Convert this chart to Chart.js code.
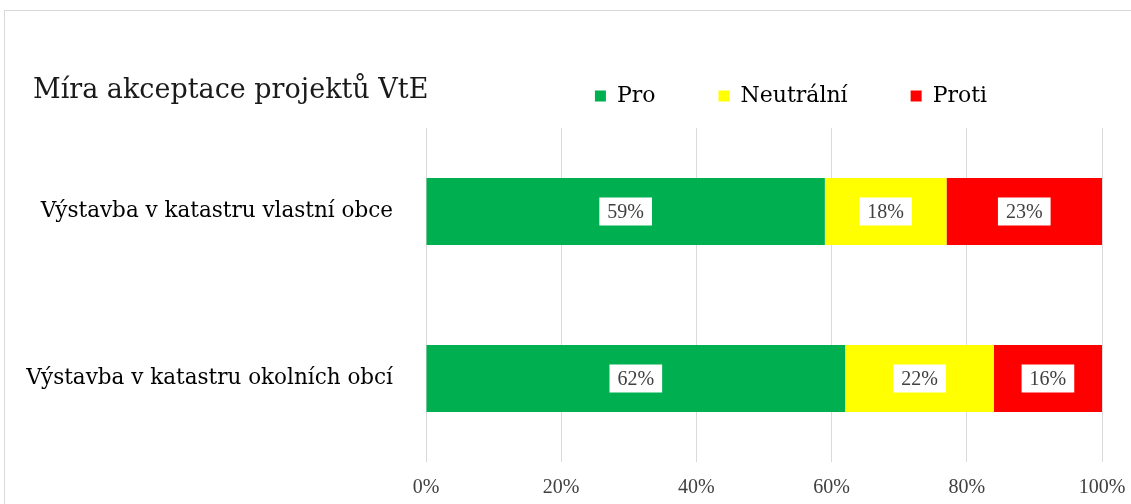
<!DOCTYPE html>
<html>
<head>
<meta charset="utf-8">
<script src="https://cdn.jsdelivr.net/npm/chart.js@4"></script>
<style>
  html, body { margin: 0; padding: 0; background: #fff; overflow: hidden; }
  #wrap { position: relative; width: 1131px; height: 504px; }
  #frame { position: absolute; left: 4px; top: 10px; width: 1140px; height: 520px; border: 1px solid #d9d9d9; box-sizing: border-box; }
  canvas { position: absolute; left: 0; top: 0; }
</style>
</head>
<body>
<div id="wrap">
  <div id="frame"></div>
  <canvas id="chart" width="1131" height="504"></canvas>
</div>
<script>
// Chart data
const chartTitle = 'Míra akceptace projektů VtE';
const categories = ['Výstavba v katastru vlastní obce', 'Výstavba v katastru okolních obcí'];
const seriesNames = ['Pro', 'Neutrální', 'Proti'];
const proValues = [59, 62];
const neutralValues = [18, 22];
const protiValues = [23, 16];
const xTicks = [0, 20, 40, 60, 80, 100];

const colors = ['#00B050', '#FFFF00', '#FF0000'];
const serif = "'DejaVu Serif', serif";
const narrow = "'Liberation Serif', serif";

// White boxed value labels + title text
const labelPlugin = {
    id: 'boxLabels',
    afterLayout(chart) {
        // move legend so it sits to the right of the title, on the title's line
        const lg = chart.legend;
        const shift = 791 - (lg.left + lg.right) / 2;
        lg.left += shift;
        lg.right += shift;
        lg.top -= 11;
        lg.bottom -= 11;
    },
    afterDatasetsDraw(chart) {
        const ctx = chart.ctx;
        ctx.save();
        ctx.font = `20px ${narrow}`;
        ctx.textAlign = 'center';
        ctx.textBaseline = 'middle';
        chart.data.datasets.forEach((ds, i) => {
            chart.getDatasetMeta(i).data.forEach((bar, j) => {
                const text = ds.data[j] + '%';
                const cx = (bar.x + bar.base) / 2;
                const w = ctx.measureText(text).width + 16;
                ctx.fillStyle = '#ffffff';
                ctx.fillRect(cx - w / 2, bar.y - 14, w, 28);
                ctx.fillStyle = '#404040';
                ctx.fillText(text, cx, bar.y + 1);
            });
        });
        ctx.restore();
    },
    afterDraw(chart) {
        const ctx = chart.ctx;
        ctx.save();
        ctx.font = `27px ${serif}`;
        ctx.fillStyle = '#1a1a1a';
        ctx.textAlign = 'left';
        ctx.textBaseline = 'middle';
        ctx.fillText(chartTitle, 33, 91);
        ctx.restore();
    }
};

const values = [proValues, neutralValues, protiValues];

new Chart(document.getElementById('chart'), {
    type: 'bar',
    data: {
        labels: categories,
        datasets: seriesNames.map((name, i) => ({
            label: name,
            data: values[i],
            backgroundColor: colors[i],
            borderWidth: 0,
            categoryPercentage: 1,
            barPercentage: 0.4
        }))
    },
    options: {
        indexAxis: 'y',
        responsive: false,
        animation: false,
        layout: { padding: { left: 22, right: 0, top: 33, bottom: 0 } },
        plugins: {
            legend: {
                position: 'top',
                labels: {
                    boxWidth: 11,
                    boxHeight: 11,
                    padding: 63,
                    color: '#000',
                    font: { family: serif, size: 22 }
                }
            },
            tooltip: { enabled: false }
        },
        scales: {
            x: {
                stacked: true,
                min: 0,
                max: 100,
                afterBuildTicks(scale) {
                    scale.ticks = xTicks.map(v => ({ value: v }));
                },
                afterFit(scale) {
                    scale.height = 42;
                    scale.paddingRight = 29;
                },
                ticks: {
                    padding: 14,
                    color: '#404040',
                    font: { family: narrow, size: 20 },
                    callback: v => v + '%'
                },
                grid: { color: '#d9d9d9', drawTicks: false },
                border: { display: false }
            },
            y: {
                stacked: true,
                afterFit(scale) { scale.width = 404; },
                ticks: {
                    padding: 25,
                    color: '#000',
                    font: { family: serif, size: 21.5 }
                },
                grid: { display: false },
                border: { display: false }
            }
        }
    },
    plugins: [labelPlugin]
});
</script>
</body>
</html>
